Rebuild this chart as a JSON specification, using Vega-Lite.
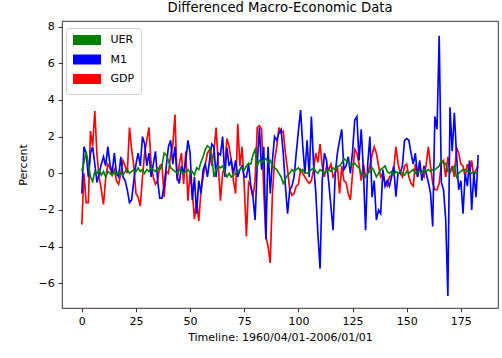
{
"$schema": "https://vega.github.io/schema/vega-lite/v6.json",
"width": 436, "height": 287,
"autosize": {"type": "none"},
"padding": {"left": 62, "top": 21, "right": 4, "bottom": 50},
"title": {"text": "Differenced Macro-Economic Data", "fontSize": 13.2, "fontWeight": "normal", "font": "DejaVu Sans", "color": "#000", "offset": 5},
"datasets": {"macro": [
{"t":0,"UER":0.1,"M1":-1.1,"GDP":-2.8},{"t":1,"UER":0.6,"M1":1.45,"GDP":0.0},{"t":2,"UER":1.2,"M1":1.1,"GDP":-1.6},{"t":3,"UER":0.5,"M1":-0.2,"GDP":-1.6},{"t":4,"UER":-0.2,"M1":1.1,"GDP":2.3},{"t":5,"UER":-0.45,"M1":1.45,"GDP":1.5},{"t":6,"UER":0.1,"M1":0.5,"GDP":3.4},{"t":7,"UER":0.0,"M1":-0.5,"GDP":1.0},{"t":8,"UER":0.2,"M1":0.0,"GDP":-0.2},{"t":9,"UER":-0.1,"M1":0.5,"GDP":-0.9},
{"t":10,"UER":0.1,"M1":0.9,"GDP":-1.7},{"t":11,"UER":-0.2,"M1":0.4,"GDP":-0.3},{"t":12,"UER":0.1,"M1":1.45,"GDP":0.5},{"t":13,"UER":0.0,"M1":0.5,"GDP":0.3},{"t":14,"UER":-0.1,"M1":0.0,"GDP":-0.1},{"t":15,"UER":0.1,"M1":1.1,"GDP":0.2},{"t":16,"UER":-0.1,"M1":0.0,"GDP":-0.4},{"t":17,"UER":0.1,"M1":-0.2,"GDP":-0.6},{"t":18,"UER":0.0,"M1":0.9,"GDP":0.0},{"t":19,"UER":-0.1,"M1":-0.2,"GDP":0.7},
{"t":20,"UER":0.1,"M1":-0.4,"GDP":0.4},{"t":21,"UER":0.2,"M1":-0.9,"GDP":0.0},{"t":22,"UER":0.0,"M1":-1.6,"GDP":2.5},{"t":23,"UER":0.1,"M1":-1.45,"GDP":1.3},{"t":24,"UER":0.2,"M1":-0.4,"GDP":0.4},{"t":25,"UER":0.1,"M1":0.5,"GDP":-1.1},{"t":26,"UER":0.3,"M1":1.1,"GDP":-1.3},{"t":27,"UER":0.1,"M1":0.4,"GDP":-1.8},{"t":28,"UER":0.2,"M1":2.0,"GDP":-0.2},{"t":29,"UER":0.0,"M1":1.6,"GDP":1.1},
{"t":30,"UER":0.2,"M1":0.4,"GDP":1.8},{"t":31,"UER":0.1,"M1":1.1,"GDP":2.5},{"t":32,"UER":0.3,"M1":-0.2,"GDP":0.5},{"t":33,"UER":0.2,"M1":0.5,"GDP":-0.2},{"t":34,"UER":0.1,"M1":1.2,"GDP":-0.6},{"t":35,"UER":0.3,"M1":-0.4,"GDP":-0.4},{"t":36,"UER":0.2,"M1":-1.36,"GDP":0.4},{"t":37,"UER":0.4,"M1":-1.36,"GDP":0.5},{"t":38,"UER":1.1,"M1":-0.7,"GDP":-1.3},{"t":39,"UER":1.0,"M1":0.4,"GDP":0.1},
{"t":40,"UER":0.7,"M1":1.45,"GDP":0.0},{"t":41,"UER":0.3,"M1":1.8,"GDP":1.0},{"t":42,"UER":0.2,"M1":0.5,"GDP":1.5},{"t":43,"UER":0.1,"M1":1.45,"GDP":3.2},{"t":44,"UER":0.0,"M1":-0.2,"GDP":-0.4},{"t":45,"UER":0.2,"M1":-0.55,"GDP":0.5},{"t":46,"UER":0.1,"M1":0.4,"GDP":1.1},{"t":47,"UER":0.0,"M1":0.0,"GDP":-0.6},{"t":48,"UER":0.1,"M1":0.7,"GDP":1.2},{"t":49,"UER":0.2,"M1":1.8,"GDP":-1.5},
{"t":50,"UER":0.0,"M1":1.1,"GDP":0.0},{"t":51,"UER":0.1,"M1":-1.45,"GDP":-1.0},{"t":52,"UER":-0.1,"M1":-0.2,"GDP":-2.5},{"t":53,"UER":0.3,"M1":-2.2,"GDP":-1.5},{"t":54,"UER":0.2,"M1":-0.4,"GDP":-2.6},{"t":55,"UER":0.6,"M1":-1.1,"GDP":-1.0},{"t":56,"UER":0.9,"M1":0.2,"GDP":-0.2},{"t":57,"UER":1.3,"M1":0.5,"GDP":0.5},{"t":58,"UER":1.5,"M1":-0.2,"GDP":1.1},{"t":59,"UER":1.4,"M1":0.7,"GDP":1.3},
{"t":60,"UER":1.0,"M1":1.6,"GDP":0.4},{"t":61,"UER":-0.2,"M1":1.45,"GDP":1.2},{"t":62,"UER":0.2,"M1":-0.2,"GDP":2.5},{"t":63,"UER":0.4,"M1":1.1,"GDP":0.5},{"t":64,"UER":0.3,"M1":1.0,"GDP":-1.5},{"t":65,"UER":0.4,"M1":2.0,"GDP":0.0},{"t":66,"UER":0.1,"M1":-0.2,"GDP":0.4},{"t":67,"UER":-0.2,"M1":1.4,"GDP":1.9},{"t":68,"UER":0.0,"M1":0.4,"GDP":1.45},{"t":69,"UER":-0.2,"M1":0.7,"GDP":0.7},
{"t":70,"UER":-0.1,"M1":0.0,"GDP":-0.4},{"t":71,"UER":0.0,"M1":0.7,"GDP":-1.1},{"t":72,"UER":0.1,"M1":-0.2,"GDP":2.7},{"t":73,"UER":0.2,"M1":0.2,"GDP":0.4},{"t":74,"UER":0.3,"M1":0.4,"GDP":1.45},{"t":75,"UER":0.2,"M1":-0.2,"GDP":-0.7},{"t":76,"UER":0.4,"M1":-0.2,"GDP":-3.45},{"t":77,"UER":0.55,"M1":0.5,"GDP":-0.5},{"t":78,"UER":0.5,"M1":-0.7,"GDP":-0.7},{"t":79,"UER":1.0,"M1":-1.27,"GDP":-1.27},
{"t":80,"UER":1.3,"M1":-2.55,"GDP":-0.4},{"t":81,"UER":0.4,"M1":0.5,"GDP":2.5},{"t":82,"UER":0.7,"M1":2.5,"GDP":2.6},{"t":83,"UER":0.6,"M1":0.2,"GDP":2.4},{"t":84,"UER":0.7,"M1":1.45,"GDP":-1.0},{"t":85,"UER":0.8,"M1":-3.6,"GDP":-3.45},{"t":86,"UER":0.6,"M1":1.45,"GDP":-4.0},{"t":87,"UER":0.7,"M1":-1.1,"GDP":-4.9},{"t":88,"UER":0.4,"M1":0.7,"GDP":-1.1},{"t":89,"UER":0.3,"M1":2.0,"GDP":0.7},
{"t":90,"UER":0.2,"M1":1.8,"GDP":1.45},{"t":91,"UER":0.0,"M1":2.2,"GDP":2.5},{"t":92,"UER":-0.2,"M1":2.4,"GDP":2.2},{"t":93,"UER":-0.55,"M1":1.1,"GDP":2.3},{"t":94,"UER":-0.3,"M1":-0.7,"GDP":1.1},{"t":95,"UER":-0.1,"M1":-2.2,"GDP":0.2},{"t":96,"UER":0.0,"M1":-0.9,"GDP":-0.9},{"t":97,"UER":0.2,"M1":-0.7,"GDP":-1.2},{"t":98,"UER":0.1,"M1":-0.2,"GDP":-1.1},{"t":99,"UER":0.2,"M1":1.1,"GDP":-0.7},
{"t":100,"UER":0.3,"M1":2.3,"GDP":-0.6},{"t":101,"UER":0.1,"M1":3.45,"GDP":0.2},{"t":102,"UER":0.2,"M1":1.5,"GDP":0.0},{"t":103,"UER":0.0,"M1":0.0,"GDP":-0.2},{"t":104,"UER":0.0,"M1":1.8,"GDP":-0.4},{"t":105,"UER":0.1,"M1":-0.2,"GDP":-0.55},{"t":106,"UER":0.2,"M1":3.1,"GDP":-0.4},{"t":107,"UER":0.3,"M1":0.5,"GDP":0.2},{"t":108,"UER":0.1,"M1":-1.0,"GDP":1.1},{"t":109,"UER":0.0,"M1":-3.3,"GDP":0.6},
{"t":110,"UER":0.2,"M1":-5.2,"GDP":1.6},{"t":111,"UER":0.1,"M1":-0.4,"GDP":0.4},{"t":112,"UER":0.0,"M1":1.1,"GDP":-0.2},{"t":113,"UER":0.1,"M1":0.7,"GDP":0.4},{"t":114,"UER":0.2,"M1":-0.5,"GDP":0.2},{"t":115,"UER":0.1,"M1":-1.8,"GDP":0.5},{"t":116,"UER":0.3,"M1":-3.1,"GDP":-0.2},{"t":117,"UER":0.2,"M1":0.0,"GDP":0.0},{"t":118,"UER":0.4,"M1":1.1,"GDP":0.4},{"t":119,"UER":0.4,"M1":1.8,"GDP":-1.1},
{"t":120,"UER":0.55,"M1":2.4,"GDP":0.4},{"t":121,"UER":0.8,"M1":0.2,"GDP":-0.4},{"t":122,"UER":0.7,"M1":0.4,"GDP":-0.5},{"t":123,"UER":0.6,"M1":0.9,"GDP":-1.1},{"t":124,"UER":0.4,"M1":0.0,"GDP":-1.45},{"t":125,"UER":0.5,"M1":1.2,"GDP":0.0},{"t":126,"UER":0.55,"M1":2.9,"GDP":1.3},{"t":127,"UER":0.4,"M1":3.1,"GDP":1.1},{"t":128,"UER":0.3,"M1":0.7,"GDP":0.5},{"t":129,"UER":0.0,"M1":2.4,"GDP":-0.4},
{"t":130,"UER":-0.1,"M1":0.2,"GDP":0.5},{"t":131,"UER":-0.2,"M1":-3.1,"GDP":-0.2},{"t":132,"UER":0.0,"M1":0.5,"GDP":0.0},{"t":133,"UER":0.1,"M1":2.0,"GDP":0.4},{"t":134,"UER":0.3,"M1":-1.3,"GDP":1.0},{"t":135,"UER":0.1,"M1":-0.4,"GDP":1.45},{"t":136,"UER":-0.2,"M1":-2.55,"GDP":1.1},{"t":137,"UER":0.0,"M1":-2.0,"GDP":0.4},{"t":138,"UER":0.2,"M1":-2.2,"GDP":-0.2},{"t":139,"UER":0.3,"M1":0.2,"GDP":0.0},
{"t":140,"UER":0.4,"M1":-0.7,"GDP":-0.55},{"t":141,"UER":0.1,"M1":-0.4,"GDP":-0.7},{"t":142,"UER":0.0,"M1":-0.7,"GDP":-0.2},{"t":143,"UER":0.1,"M1":-0.2,"GDP":-0.1},{"t":144,"UER":-0.1,"M1":0.4,"GDP":0.2},{"t":145,"UER":0.1,"M1":-1.27,"GDP":1.45},{"t":146,"UER":0.0,"M1":0.0,"GDP":0.55},{"t":147,"UER":0.1,"M1":0.0,"GDP":0.0},{"t":148,"UER":0.0,"M1":0.4,"GDP":-0.2},{"t":149,"UER":-0.1,"M1":1.8,"GDP":0.4},
{"t":150,"UER":0.1,"M1":1.9,"GDP":0.5},{"t":151,"UER":0.0,"M1":1.8,"GDP":-0.2},{"t":152,"UER":0.1,"M1":1.1,"GDP":-0.55},{"t":153,"UER":0.2,"M1":0.5,"GDP":-0.7},{"t":154,"UER":0.0,"M1":1.1,"GDP":0.5},{"t":155,"UER":0.1,"M1":-0.2,"GDP":-0.2},{"t":156,"UER":0.1,"M1":0.7,"GDP":0.4},{"t":157,"UER":0.0,"M1":-0.4,"GDP":0.0},{"t":158,"UER":0.2,"M1":0.4,"GDP":-0.2},{"t":159,"UER":0.1,"M1":0.0,"GDP":0.5},
{"t":160,"UER":0.2,"M1":-0.5,"GDP":1.45},{"t":161,"UER":0.1,"M1":-1.1,"GDP":0.4},{"t":162,"UER":0.2,"M1":-2.9,"GDP":-0.55},{"t":163,"UER":0.2,"M1":3.1,"GDP":-0.9},{"t":164,"UER":0.3,"M1":2.4,"GDP":-0.9},{"t":165,"UER":0.4,"M1":7.5,"GDP":-0.55},{"t":166,"UER":0.7,"M1":-0.5,"GDP":0.55},{"t":167,"UER":0.55,"M1":-0.9,"GDP":0.7},{"t":168,"UER":0.55,"M1":-2.5,"GDP":-0.2},{"t":169,"UER":0.1,"M1":-6.7,"GDP":0.9},
{"t":170,"UER":0.1,"M1":3.6,"GDP":0.0},{"t":171,"UER":0.2,"M1":1.2,"GDP":0.4},{"t":172,"UER":0.4,"M1":3.3,"GDP":-0.2},{"t":173,"UER":-0.2,"M1":1.0,"GDP":1.4},{"t":174,"UER":0.0,"M1":-0.9,"GDP":1.1},{"t":175,"UER":0.1,"M1":-0.4,"GDP":0.5},{"t":176,"UER":0.2,"M1":-2.2,"GDP":0.4},{"t":177,"UER":0.2,"M1":0.0,"GDP":-0.2},{"t":178,"UER":0.1,"M1":-0.7,"GDP":0.5},{"t":179,"UER":0.1,"M1":0.7,"GDP":0.0},
{"t":180,"UER":0.0,"M1":-2.0,"GDP":0.7},{"t":181,"UER":0.1,"M1":0.0,"GDP":-0.2},{"t":182,"UER":0.0,"M1":-1.3,"GDP":0.2},{"t":183,"UER":0.0,"M1":1.0,"GDP":0.4}
]},
"data": {"name": "macro"},
"transform": [{"fold": ["GDP", "M1", "UER"], "as": ["series", "value"]}],
"encoding": {
  "x": {"field": "t", "type": "quantitative", "scale": {"domain": [-9.15, 192.15], "nice": false, "zero": false},
        "axis": {"values": [0, 25, 50, 75, 100, 125, 150, 175], "format": "d", "title": "Timeline: 1960/04/01-2006/01/01", "titlePadding": 5}},
  "y": {"field": "value", "type": "quantitative", "scale": {"domain": [-7.35, 8.31], "nice": false, "zero": false},
        "axis": {"values": [-6, -4, -2, 0, 2, 4, 6, 8], "title": "Percent", "titlePadding": 9}},
  "color": {"field": "series", "type": "nominal",
            "scale": {"domain": ["UER", "M1", "GDP"], "range": ["#008000", "#0000ff", "#ff0000"]},
            "legend": {"orient": "none", "legendX": 4, "legendY": 7, "title": null,
                       "symbolType": "M-2.5,-2.1H11.5M-2.5,-1.25H11.5M-2.5,-0.4H11.5M-2.5,0.4H11.5M-2.5,1.25H11.5M-2.5,2.1H11.5",
                       "symbolSize": 16, "symbolStrokeWidth": 1.8, "symbolOpacity": 1,
                       "labelFont": "DejaVu Sans", "labelFontSize": 11, "labelColor": "#000", "labelOffset": 27,
                       "rowPadding": 2.5, "padding": 6.5, "strokeColor": "#cccccc", "fillColor": "#ffffff", "cornerRadius": 3}}
},
"layer": [
  {"transform": [{"filter": "datum.series === 'GDP'"}], "mark": {"type": "line", "strokeWidth": 1.65}},
  {"transform": [{"filter": "datum.series === 'M1'"}], "mark": {"type": "line", "strokeWidth": 1.65}},
  {"transform": [{"filter": "datum.series === 'UER'"}], "mark": {"type": "line", "strokeWidth": 1.65}}
],
"config": {
  "font": "DejaVu Sans",
  "view": {"stroke": "#000", "strokeWidth": 0.8},
  "axis": {"domain": false, "grid": false, "ticks": true, "tickColor": "#000", "tickSize": 3.8, "tickWidth": 0.8,
           "labelFont": "DejaVu Sans", "labelFontSize": 11, "labelColor": "#000", "labelPadding": 4,
           "titleFont": "DejaVu Sans", "titleFontSize": 11, "titleFontWeight": "normal", "titleColor": "#000"}
}
}
